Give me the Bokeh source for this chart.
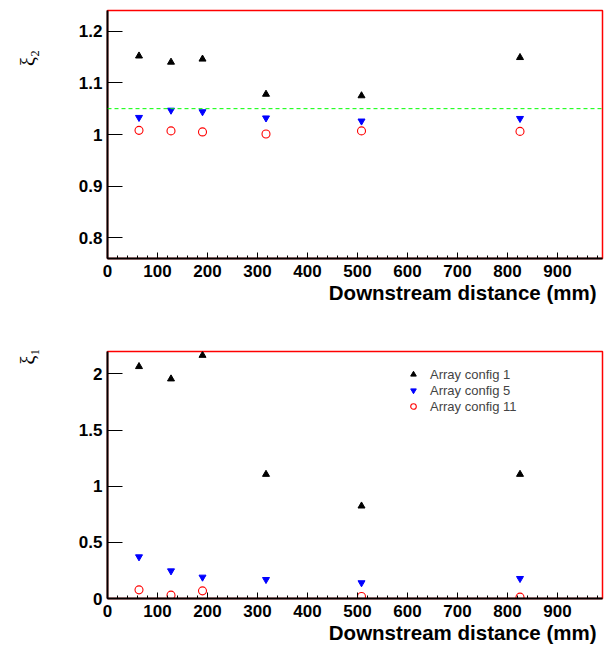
import math
from bokeh.plotting import figure
from bokeh.layouts import column
from bokeh.models import (FixedTicker, CustomJSTickFormatter, Span, Title,
                          Legend, LegendItem, Range1d)
from bokeh.embed import file_html
from bokeh.resources import INLINE

# ---- data ----
distance_mm = [63, 127, 190, 317, 508, 825]

xi2_config1 = [1.152, 1.140, 1.146, 1.078, 1.075, 1.149]
xi2_config5 = [1.033, 1.047, 1.044, 1.032, 1.026, 1.031]
xi2_config11 = [1.008, 1.007, 1.005, 1.001, 1.007, 1.006]
xi2_reference = 1.05

xi1_config1 = [2.066, 1.956, 2.166, 1.106, 0.824, 1.106]
xi1_config5 = [0.371, 0.246, 0.190, 0.169, 0.140, 0.178]
xi1_config11 = [0.077, 0.030, 0.068, float("nan"), 0.018, 0.012]

x_ticks = [0, 100, 200, 300, 400, 500, 600, 700, 800, 900]
x_minor_ticks = list(range(0, 1000, 20))
xi2_ticks = [0.8, 0.9, 1.0, 1.1, 1.2]
xi1_ticks = [0, 0.5, 1.0, 1.5, 2.0]
legend_labels = ["Array config 1", "Array config 5", "Array config 11"]
x_title = "Downstream distance (mm)"
xi2_title = "ξ₂"
xi1_title = "ξ₁"

FONT = "Liberation Sans"
NBSP = "\u00a0"


def make_fig(height, b_top, b_bottom, y0, y1, yticks, ylabel):
    p = figure(width=611, height=height, output_backend="svg", toolbar_location=None,
               x_range=Range1d(0, 990), y_range=Range1d(y0, y1),
               min_border_left=107, min_border_right=9,
               min_border_top=b_top, min_border_bottom=b_bottom)
    p.grid.visible = False
    p.background_fill_color = "white"
    p.border_fill_color = "white"
    p.outline_line_color = "red"
    p.outline_line_width = 1.5

    xa = p.xaxis[0]
    xa.ticker = FixedTicker(ticks=x_ticks, minor_ticks=x_minor_ticks)
    xa.major_tick_in = 6
    xa.major_tick_out = 0
    xa.minor_tick_in = 3
    xa.minor_tick_out = 0
    xa.axis_line_width = 2
    xa.major_label_standoff = 6
    xa.major_label_text_font = FONT
    xa.major_label_text_font_style = "bold"
    xa.major_label_text_font_size = "17px"
    xa.major_label_text_color = "black"

    ya = p.yaxis[0]
    ya.ticker = FixedTicker(ticks=yticks)
    ya.formatter = CustomJSTickFormatter(code="return String(Number(tick.toFixed(3)))")
    ya.major_tick_in = 15
    ya.major_tick_out = 0
    ya.minor_tick_line_color = None
    ya.axis_line_width = 2
    ya.major_label_standoff = 5
    ya.major_label_text_font = FONT
    ya.major_label_text_font_style = "bold"
    ya.major_label_text_font_size = "17px"
    ya.major_label_text_color = "black"
    ya.axis_label = ylabel
    ya.axis_label_standoff = 37
    ya.axis_label_text_font = "Liberation Serif"
    ya.axis_label_text_font_style = "normal"
    ya.axis_label_text_font_size = "20px"
    ya.axis_label_text_color = "black"
    if "axis_label_align" in ya.properties():
        ya.axis_label_align = "end"

    p.add_layout(Title(text=x_title, align="right", offset=6, standoff=3,
                       vertical_align="top", text_color="black",
                       text_font=FONT, text_font_style="bold", text_font_size="20.5px"),
                 "below")
    return p


def add_points(p, c1, c5, c11):
    r1 = p.scatter(distance_mm, c1, marker="triangle", size=7,
                   fill_color="black", line_color="black")
    r5 = p.scatter(distance_mm, c5, marker="inverted_triangle", size=7,
                   fill_color="#0000ff", line_color="#0000ff")
    r11 = p.scatter(distance_mm, c11, marker="circle", size=8,
                    fill_color=None, line_color="#ff0000", line_width=1.1)
    return r1, r5, r11


# ---- top: xi_2 ----
top = make_fig(324, 10, 66, 0.76, 1.24, xi2_ticks, xi2_title + NBSP * 19)
top.add_layout(Span(location=xi2_reference, dimension="width", line_color="#00ff00",
                    line_dash="4 3", line_width=1))
add_points(top, xi2_config1, xi2_config5, xi2_config11)

# ---- bottom: xi_1 ----
bot = make_fig(324, 27, 50, 0, 2.2, xi1_ticks, xi1_title + NBSP * 2)
r1, r5, r11 = add_points(bot, xi1_config1, xi1_config5, xi1_config11)

legend = Legend(items=[LegendItem(label=legend_labels[0], renderers=[r1]),
                       LegendItem(label=legend_labels[1], renderers=[r5]),
                       LegendItem(label=legend_labels[2], renderers=[r11])],
                location=(299, 184), orientation="vertical",
                border_line_color=None, background_fill_alpha=0,
                padding=0, spacing=0, margin=0,
                glyph_width=14, glyph_height=16, label_height=16, label_standoff=10,
                label_text_font=FONT, label_text_font_size="13px")
bot.add_layout(legend)

layout = column(top, bot, spacing=0)
open("out.html", "w").write(file_html(layout, INLINE))
